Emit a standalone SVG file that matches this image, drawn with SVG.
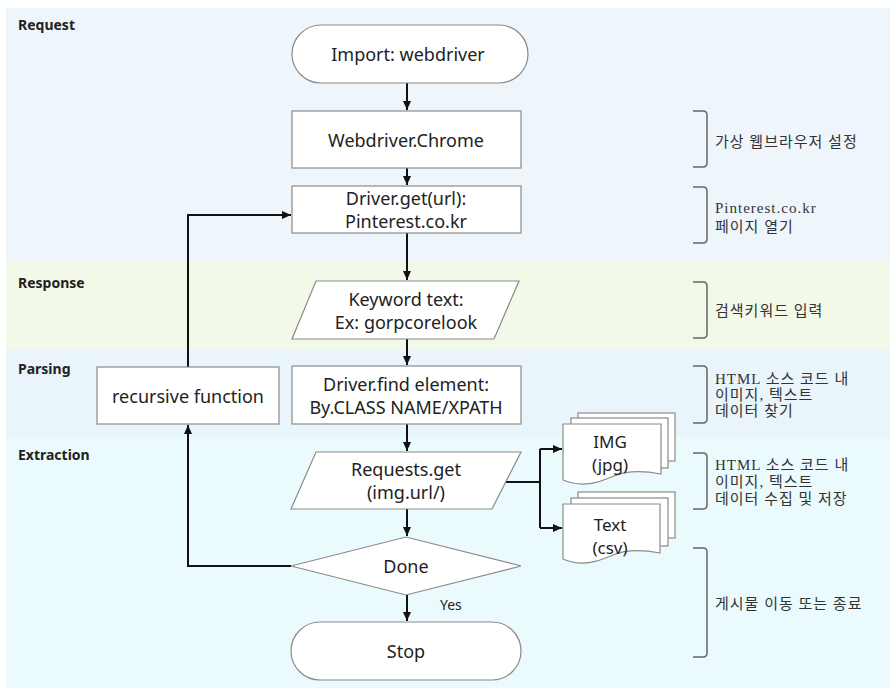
<svg xmlns="http://www.w3.org/2000/svg" width="895" height="694" viewBox="0 0 895 694">
<defs>
<style>
.node{fill:#ffffff;stroke:#8a8a8a;stroke-width:1.2}
.t{font-family:"Noto Sans","Liberation Sans",sans-serif;font-size:18px;fill:#222;text-anchor:middle;dominant-baseline:central}
.d{font-size:17px}
.ph{font-family:"Noto Sans","Liberation Sans",sans-serif;font-size:14px;font-weight:bold;fill:#222}
.kr{font-family:"Liberation Serif","Noto Sans CJK KR",serif;font-size:15px;fill:#333;letter-spacing:1px}
.br{fill:none;stroke:#666;stroke-width:1.5}
.c{fill:none;stroke:#111;stroke-width:2}
</style>
<marker id="ah" markerWidth="9" markerHeight="8" refX="9" refY="4" orient="auto" markerUnits="userSpaceOnUse">
<path d="M0,0 L9,4 L0,8 z" fill="#111"/>
</marker>
</defs>
<rect x="0" y="0" width="895" height="694" fill="#ffffff"/>
<g id="bands">
<rect x="6" y="8" width="884" height="254" fill="#eef6fb"/>
<rect x="6" y="262" width="884" height="88" fill="#f2f9e9"/>
<rect x="6" y="350" width="884" height="87" fill="#eaf4fb"/>
<rect x="6" y="437" width="884" height="251" fill="#ebfbfd"/>
</g>
<g id="phases">
<text class="ph" x="18" y="30">Request</text>
<text class="ph" x="18" y="288">Response</text>
<text class="ph" x="18" y="374">Parsing</text>
<text class="ph" x="18" y="460">Extraction</text>
</g>
<g id="connectors">
<path class="c" d="M407,83 V110" marker-end="url(#ah)"/>
<path class="c" d="M407,168 V185" marker-end="url(#ah)"/>
<path class="c" d="M407,233 V280" marker-end="url(#ah)"/>
<path class="c" d="M407,339 V365" marker-end="url(#ah)"/>
<path class="c" d="M407,424 V451" marker-end="url(#ah)"/>
<path class="c" d="M407,509 V536" marker-end="url(#ah)"/>
<path class="c" d="M407,595 V621" marker-end="url(#ah)"/>
<path class="c" d="M291,566 H188 V425" marker-end="url(#ah)"/>
<path class="c" d="M188,367 V215 H291" marker-end="url(#ah)"/>
<path class="c" d="M505,482 H540"/>
<path class="c" d="M540,449 V528"/>
<path class="c" d="M540,449 H562" marker-end="url(#ah)"/>
<path class="c" d="M540,528 H562" marker-end="url(#ah)"/>
<text x="440" y="610" font-family="Noto Sans, Liberation Sans, sans-serif" font-size="14" fill="#222">Yes</text>
</g>
<g id="import">
<rect class="node" x="292" y="25" width="236" height="58" rx="29"/>
<text class="t" x="408" y="54">Import: webdriver</text>
</g>
<g id="chrome">
<rect class="node" x="292" y="111" width="229" height="57"/>
<text class="t" x="406" y="140">Webdriver.Chrome</text>
</g>
<g id="driverget">
<rect class="node" x="292" y="186" width="229" height="47"/>
<text class="t" x="406" y="198">Driver.get(url):</text>
<text class="t" x="406" y="221">Pinterest.co.kr</text>
</g>
<g id="keyword">
<polygon class="node" points="316,281 519,281 494,339 292,339"/>
<text class="t" x="406" y="299">Keyword text:</text>
<text class="t" x="406" y="322">Ex: gorpcorelook</text>
</g>
<g id="find">
<rect class="node" x="292" y="366" width="229" height="58"/>
<text class="t" x="406" y="384">Driver.find element:</text>
<text class="t" x="406" y="407">By.CLASS NAME/XPATH</text>
</g>
<g id="recursive">
<rect class="node" x="97" y="367" width="182" height="57"/>
<text class="t" x="188" y="396">recursive function</text>
</g>
<g id="requests">
<polygon class="node" points="316,452 521,452 492,509 291,509"/>
<text class="t" x="406" y="469">Requests.get</text>
<text class="t" x="406" y="492">(img.url/)</text>
</g>
<g id="done">
<polygon class="node" points="291,566 406,537 521,566 406,595"/>
<text class="t" x="406" y="566">Done</text>
</g>
<g id="stop">
<rect class="node" x="291" y="622" width="230" height="58" rx="29"/>
<text class="t" x="406" y="651">Stop</text>
</g>
<g id="img">
<rect class="node" x="578" y="413" width="97" height="48"/>
<rect class="node" x="571" y="418" width="97" height="50"/>
<path class="node" d="M563,424 H661 V474 C645,471 628,470 614,476 C598,483 582,488 563,480 Z"/>
<text class="t d" x="610" y="441">IMG</text>
<text class="t d" x="610" y="464">(jpg)</text>
</g>
<g id="textcsv">
<rect class="node" x="578" y="492" width="97" height="46"/>
<rect class="node" x="571" y="498" width="97" height="48"/>
<path class="node" d="M563,504 H660 V553 C644,550 627,549 613,555 C597,562 581,567 563,559 Z"/>
<text class="t d" x="610" y="524">Text</text>
<text class="t d" x="610" y="547">(csv)</text>
</g>
<g id="notes">
<path class="br" d="M693,111 H703 Q707,111 707,115 V163 Q707,167 703,167 H693"/>
<text class="kr" x="715" y="147">가상 웹브라우저 설정</text>
<path class="br" d="M693,187 H703 Q707,187 707,191 V239 Q707,243 703,243 H693"/>
<text class="kr" x="715" y="213" font-size="16" letter-spacing="0">Pinterest.co.kr</text>
<text class="kr" x="715" y="232">페이지 열기</text>
<path class="br" d="M693,282 H703 Q707,282 707,286 V334 Q707,338 703,338 H693"/>
<text class="kr" x="715" y="316">검색키워드 입력</text>
<path class="br" d="M693,366 H703 Q707,366 707,370 V419 Q707,423 703,423 H693"/>
<text class="kr" x="715" y="384">HTML 소스 코드 내</text>
<text class="kr" x="715" y="400">이미지, 텍스트</text>
<text class="kr" x="715" y="416">데이터 찾기</text>
<path class="br" d="M693,453 H703 Q707,453 707,457 V505 Q707,509 703,509 H693"/>
<text class="kr" x="715" y="470">HTML 소스 코드 내</text>
<text class="kr" x="715" y="487">이미지, 텍스트</text>
<text class="kr" x="715" y="504">데이터 수집 및 저장</text>
<path class="br" d="M693,548 H703 Q707,548 707,552 V653 Q707,657 703,657 H693"/>
<text class="kr" x="715" y="609">게시물 이동 또는 종료</text>
</g>
</svg>
